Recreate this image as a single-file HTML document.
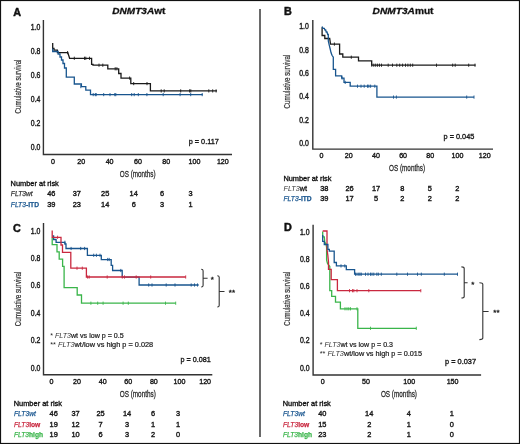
<!DOCTYPE html>
<html><head><meta charset="utf-8"><title>Kaplan-Meier curves</title>
<style>
html,body{margin:0;padding:0;background:#fff;}
body{width:520px;height:444px;overflow:hidden;font-family:"Liberation Sans",sans-serif;}
svg{display:block;will-change:transform;}
</style></head><body>
<svg width="520" height="444" viewBox="0 0 520 444" font-family="Liberation Sans, sans-serif">
<rect x="0" y="0" width="520" height="444" fill="#fff"/>
<rect x="0.5" y="0.5" width="519" height="443" fill="none" stroke="#111" stroke-width="1.2"/>
<path d="M260,9 V437" stroke="#6a6a6a" stroke-width="2"/>
<text x="13.20" y="15.62" font-size="10.8" text-anchor="start" font-weight="bold" font-style="normal" fill="#111" stroke="#111" stroke-width="0.45">A</text>
<text x="112.3" y="13.6" font-size="9.7" font-weight="bold" fill="#111" stroke="#111" stroke-width="0.3" textLength="53" lengthAdjust="spacingAndGlyphs"><tspan font-style="italic">DNMT3A</tspan>wt</text>
<path d="M43.40,20.00 V154.50 H232.00" fill="none" stroke="#333333" stroke-width="1.4"/>
<text x="40.40" y="29.54" font-size="8.2" text-anchor="end" font-weight="normal" font-style="normal" fill="#1a1a1a" textLength="9.6" lengthAdjust="spacingAndGlyphs" stroke="#1a1a1a" stroke-width="0.4">1.0</text>
<text x="40.40" y="54.04" font-size="8.2" text-anchor="end" font-weight="normal" font-style="normal" fill="#1a1a1a" textLength="9.6" lengthAdjust="spacingAndGlyphs" stroke="#1a1a1a" stroke-width="0.4">0.8</text>
<text x="40.40" y="78.04" font-size="8.2" text-anchor="end" font-weight="normal" font-style="normal" fill="#1a1a1a" textLength="9.6" lengthAdjust="spacingAndGlyphs" stroke="#1a1a1a" stroke-width="0.4">0.6</text>
<text x="40.40" y="102.14" font-size="8.2" text-anchor="end" font-weight="normal" font-style="normal" fill="#1a1a1a" textLength="9.6" lengthAdjust="spacingAndGlyphs" stroke="#1a1a1a" stroke-width="0.4">0.4</text>
<text x="40.40" y="126.24" font-size="8.2" text-anchor="end" font-weight="normal" font-style="normal" fill="#1a1a1a" textLength="9.6" lengthAdjust="spacingAndGlyphs" stroke="#1a1a1a" stroke-width="0.4">0.2</text>
<text x="40.40" y="150.34" font-size="8.2" text-anchor="end" font-weight="normal" font-style="normal" fill="#1a1a1a" textLength="9.6" lengthAdjust="spacingAndGlyphs" stroke="#1a1a1a" stroke-width="0.4">0.0</text>
<text x="53.00" y="163.78" font-size="7.5" text-anchor="middle" font-weight="normal" font-style="normal" fill="#1a1a1a" textLength="3.95" lengthAdjust="spacingAndGlyphs" stroke="#1a1a1a" stroke-width="0.4">0</text>
<text x="81.30" y="163.78" font-size="7.5" text-anchor="middle" font-weight="normal" font-style="normal" fill="#1a1a1a" textLength="7.9" lengthAdjust="spacingAndGlyphs" stroke="#1a1a1a" stroke-width="0.4">20</text>
<text x="109.60" y="163.78" font-size="7.5" text-anchor="middle" font-weight="normal" font-style="normal" fill="#1a1a1a" textLength="7.9" lengthAdjust="spacingAndGlyphs" stroke="#1a1a1a" stroke-width="0.4">40</text>
<text x="137.90" y="163.78" font-size="7.5" text-anchor="middle" font-weight="normal" font-style="normal" fill="#1a1a1a" textLength="7.9" lengthAdjust="spacingAndGlyphs" stroke="#1a1a1a" stroke-width="0.4">60</text>
<text x="166.20" y="163.78" font-size="7.5" text-anchor="middle" font-weight="normal" font-style="normal" fill="#1a1a1a" textLength="7.9" lengthAdjust="spacingAndGlyphs" stroke="#1a1a1a" stroke-width="0.4">80</text>
<text x="194.50" y="163.78" font-size="7.5" text-anchor="middle" font-weight="normal" font-style="normal" fill="#1a1a1a" textLength="11.850000000000001" lengthAdjust="spacingAndGlyphs" stroke="#1a1a1a" stroke-width="0.4">100</text>
<text x="222.80" y="163.78" font-size="7.5" text-anchor="middle" font-weight="normal" font-style="normal" fill="#1a1a1a" textLength="11.850000000000001" lengthAdjust="spacingAndGlyphs" stroke="#1a1a1a" stroke-width="0.4">120</text>
<text x="137.70" y="177.31" font-size="9.8" text-anchor="middle" font-weight="normal" font-style="normal" fill="#2a2a2a" textLength="35.8" lengthAdjust="spacingAndGlyphs" stroke="#2a2a2a" stroke-width="0.3">OS (months)</text>
<g transform="translate(17.60,86.50) rotate(-90)"><text x="0" y="3.44" font-size="9.6" text-anchor="middle" fill="#2e2e2e" stroke="#2e2e2e" stroke-width="0.2" textLength="54" lengthAdjust="spacingAndGlyphs">Cumulative survival</text></g>
<text x="188.70" y="143.85" font-size="7.4" text-anchor="start" font-weight="normal" font-style="normal" fill="#1a1a1a" textLength="30.2" lengthAdjust="spacingAndGlyphs" stroke="#1a1a1a" stroke-width="0.35">p = 0.117</text>
<path d="M52.70,43.10 V48.30 H54.00 V50.20 H57.40 V52.60 H67.80 L69.60,58.30 H91.60 V64.40 H93.00 V65.20 H107.80 V68.80 H118.70 V73.50 H121.00 V78.10 H130.80 V83.60 H150.40 V90.90 H217.00" fill="none" stroke="#1a1a1a" stroke-width="1.3" stroke-linejoin="miter"/>
<path d="M52.70,48.50 V51.50 H58.10 V54.00 H60.00 V57.00 H61.50 V60.00 H63.00 V63.50 H64.50 V68.00 H66.30 V77.20 H74.30 V84.00 H81.40 V86.60 H85.80 V90.20 H90.50 V94.60 H202.70" fill="none" stroke="#18558e" stroke-width="1.3" stroke-linejoin="miter"/>
<path d="M67.60,51.00 V54.20" fill="none" stroke="#1a1a1a" stroke-width="0.9"/>
<path d="M74.30,56.70 V59.90 M84.50,56.70 V59.90 M85.80,56.70 V59.90 M89.50,56.70 V59.90" fill="none" stroke="#1a1a1a" stroke-width="0.9"/>
<path d="M99.00,63.60 V66.80 M102.80,63.60 V66.80" fill="none" stroke="#1a1a1a" stroke-width="0.9"/>
<path d="M115.20,67.20 V70.40 M116.90,67.20 V70.40" fill="none" stroke="#1a1a1a" stroke-width="0.9"/>
<path d="M129.60,76.50 V79.70" fill="none" stroke="#1a1a1a" stroke-width="0.9"/>
<path d="M133.70,82.00 V85.20 M147.00,82.00 V85.20" fill="none" stroke="#1a1a1a" stroke-width="0.9"/>
<path d="M161.20,89.30 V92.50 M164.20,89.30 V92.50 M180.70,89.30 V92.50 M189.60,89.30 V92.50 M190.80,89.30 V92.50 M208.80,89.30 V92.50 M212.70,89.30 V92.50 M216.10,89.30 V92.50" fill="none" stroke="#1a1a1a" stroke-width="0.9"/>
<path d="M80.80,85.00 V88.20" fill="none" stroke="#18558e" stroke-width="0.9"/>
<path d="M93.20,93.00 V96.20 M95.30,93.00 V96.20 M96.20,93.00 V96.20 M103.70,93.00 V96.20 M110.00,93.00 V96.20 M114.80,93.00 V96.20 M115.80,93.00 V96.20 M131.70,93.00 V96.20 M134.20,93.00 V96.20 M138.30,93.00 V96.20 M146.90,93.00 V96.20 M163.20,93.00 V96.20 M180.10,93.00 V96.20 M190.70,93.00 V96.20 M202.20,93.00 V96.20" fill="none" stroke="#18558e" stroke-width="0.9"/>
<text x="10.60" y="185.92" font-size="7.6" text-anchor="start" font-weight="normal" font-style="normal" fill="#111" textLength="48.2" lengthAdjust="spacingAndGlyphs" stroke="#111" stroke-width="0.35">Number at risk</text>
<text x="10.8" y="195.95" font-size="7.6" fill="#333" stroke="#333" stroke-width="0.25" font-style="italic" textLength="21.9" lengthAdjust="spacingAndGlyphs">FLT3wt</text>
<text x="10.8" y="206.75" font-size="7.6" fill="#18558e" stroke="#18558e" stroke-width="0.25" textLength="28.2" lengthAdjust="spacingAndGlyphs"><tspan font-style="italic">FLT3</tspan><tspan font-weight="bold">-ITD</tspan></text>
<text x="51.30" y="196.05" font-size="7.4" text-anchor="middle" font-weight="normal" font-style="normal" fill="#1a1a1a" stroke="#1a1a1a" stroke-width="0.4">46</text>
<text x="51.30" y="206.65" font-size="7.4" text-anchor="middle" font-weight="normal" font-style="normal" fill="#1a1a1a" stroke="#1a1a1a" stroke-width="0.4">39</text>
<text x="76.80" y="196.05" font-size="7.4" text-anchor="middle" font-weight="normal" font-style="normal" fill="#1a1a1a" stroke="#1a1a1a" stroke-width="0.4">37</text>
<text x="76.80" y="206.65" font-size="7.4" text-anchor="middle" font-weight="normal" font-style="normal" fill="#1a1a1a" stroke="#1a1a1a" stroke-width="0.4">23</text>
<text x="105.20" y="196.05" font-size="7.4" text-anchor="middle" font-weight="normal" font-style="normal" fill="#1a1a1a" stroke="#1a1a1a" stroke-width="0.4">25</text>
<text x="105.20" y="206.65" font-size="7.4" text-anchor="middle" font-weight="normal" font-style="normal" fill="#1a1a1a" stroke="#1a1a1a" stroke-width="0.4">14</text>
<text x="133.70" y="196.05" font-size="7.4" text-anchor="middle" font-weight="normal" font-style="normal" fill="#1a1a1a" stroke="#1a1a1a" stroke-width="0.4">14</text>
<text x="133.70" y="206.65" font-size="7.4" text-anchor="middle" font-weight="normal" font-style="normal" fill="#1a1a1a" stroke="#1a1a1a" stroke-width="0.4">6</text>
<text x="162.00" y="196.05" font-size="7.4" text-anchor="middle" font-weight="normal" font-style="normal" fill="#1a1a1a" stroke="#1a1a1a" stroke-width="0.4">6</text>
<text x="162.00" y="206.65" font-size="7.4" text-anchor="middle" font-weight="normal" font-style="normal" fill="#1a1a1a" stroke="#1a1a1a" stroke-width="0.4">3</text>
<text x="190.50" y="196.05" font-size="7.4" text-anchor="middle" font-weight="normal" font-style="normal" fill="#1a1a1a" stroke="#1a1a1a" stroke-width="0.4">3</text>
<text x="190.50" y="206.65" font-size="7.4" text-anchor="middle" font-weight="normal" font-style="normal" fill="#1a1a1a" stroke="#1a1a1a" stroke-width="0.4">1</text>
<text x="284.10" y="15.47" font-size="10.8" text-anchor="start" font-weight="bold" font-style="normal" fill="#111" stroke="#111" stroke-width="0.45">B</text>
<text x="372.6" y="13.6" font-size="9.7" font-weight="bold" fill="#111" stroke="#111" stroke-width="0.3" textLength="60.9" lengthAdjust="spacingAndGlyphs"><tspan font-style="italic">DNMT3A</tspan>mut</text>
<path d="M312.80,20.00 V149.10 H493.00" fill="none" stroke="#333333" stroke-width="1.4"/>
<text x="308.80" y="29.24" font-size="8.2" text-anchor="end" font-weight="normal" font-style="normal" fill="#1a1a1a" textLength="9.6" lengthAdjust="spacingAndGlyphs" stroke="#1a1a1a" stroke-width="0.4">1.0</text>
<text x="308.80" y="52.54" font-size="8.2" text-anchor="end" font-weight="normal" font-style="normal" fill="#1a1a1a" textLength="9.6" lengthAdjust="spacingAndGlyphs" stroke="#1a1a1a" stroke-width="0.4">0.8</text>
<text x="308.80" y="76.04" font-size="8.2" text-anchor="end" font-weight="normal" font-style="normal" fill="#1a1a1a" textLength="9.6" lengthAdjust="spacingAndGlyphs" stroke="#1a1a1a" stroke-width="0.4">0.6</text>
<text x="308.80" y="99.34" font-size="8.2" text-anchor="end" font-weight="normal" font-style="normal" fill="#1a1a1a" textLength="9.6" lengthAdjust="spacingAndGlyphs" stroke="#1a1a1a" stroke-width="0.4">0.4</text>
<text x="308.80" y="122.74" font-size="8.2" text-anchor="end" font-weight="normal" font-style="normal" fill="#1a1a1a" textLength="9.6" lengthAdjust="spacingAndGlyphs" stroke="#1a1a1a" stroke-width="0.4">0.2</text>
<text x="308.80" y="146.04" font-size="8.2" text-anchor="end" font-weight="normal" font-style="normal" fill="#1a1a1a" textLength="9.6" lengthAdjust="spacingAndGlyphs" stroke="#1a1a1a" stroke-width="0.4">0.0</text>
<text x="321.50" y="157.88" font-size="7.5" text-anchor="middle" font-weight="normal" font-style="normal" fill="#1a1a1a" textLength="3.95" lengthAdjust="spacingAndGlyphs" stroke="#1a1a1a" stroke-width="0.4">0</text>
<text x="348.70" y="157.88" font-size="7.5" text-anchor="middle" font-weight="normal" font-style="normal" fill="#1a1a1a" textLength="7.9" lengthAdjust="spacingAndGlyphs" stroke="#1a1a1a" stroke-width="0.4">20</text>
<text x="375.90" y="157.88" font-size="7.5" text-anchor="middle" font-weight="normal" font-style="normal" fill="#1a1a1a" textLength="7.9" lengthAdjust="spacingAndGlyphs" stroke="#1a1a1a" stroke-width="0.4">40</text>
<text x="403.10" y="157.88" font-size="7.5" text-anchor="middle" font-weight="normal" font-style="normal" fill="#1a1a1a" textLength="7.9" lengthAdjust="spacingAndGlyphs" stroke="#1a1a1a" stroke-width="0.4">60</text>
<text x="430.30" y="157.88" font-size="7.5" text-anchor="middle" font-weight="normal" font-style="normal" fill="#1a1a1a" textLength="7.9" lengthAdjust="spacingAndGlyphs" stroke="#1a1a1a" stroke-width="0.4">80</text>
<text x="457.50" y="157.88" font-size="7.5" text-anchor="middle" font-weight="normal" font-style="normal" fill="#1a1a1a" textLength="11.850000000000001" lengthAdjust="spacingAndGlyphs" stroke="#1a1a1a" stroke-width="0.4">100</text>
<text x="484.70" y="157.88" font-size="7.5" text-anchor="middle" font-weight="normal" font-style="normal" fill="#1a1a1a" textLength="11.850000000000001" lengthAdjust="spacingAndGlyphs" stroke="#1a1a1a" stroke-width="0.4">120</text>
<text x="407.00" y="171.31" font-size="9.8" text-anchor="middle" font-weight="normal" font-style="normal" fill="#2a2a2a" textLength="36.0" lengthAdjust="spacingAndGlyphs" stroke="#2a2a2a" stroke-width="0.3">OS (months)</text>
<g transform="translate(286.90,81.60) rotate(-90)"><text x="0" y="3.44" font-size="9.6" text-anchor="middle" fill="#2e2e2e" stroke="#2e2e2e" stroke-width="0.2" textLength="53.8" lengthAdjust="spacingAndGlyphs">Cumulative survival</text></g>
<text x="443.60" y="139.15" font-size="7.4" text-anchor="start" font-weight="normal" font-style="normal" fill="#1a1a1a" textLength="30.7" lengthAdjust="spacingAndGlyphs" stroke="#1a1a1a" stroke-width="0.35">p = 0.045</text>
<path d="M322.10,27.20 V35.50 H324.80 V38.50 H329.70 L330.50,44.10 H339.60 V54.00 H342.80 V57.20 H358.50 V60.80 H371.70 V65.20 H475.50" fill="none" stroke="#1a1a1a" stroke-width="1.3" stroke-linejoin="miter"/>
<path d="M322.10,26.50 L322.90,28.30 H324.30 L325.00,30.00 H325.70 L326.20,32.00 H327.00 L327.70,34.50 H328.30 V41.00 L329.30,45.40 L330.20,49.00 L331.00,52.60 L332.00,55.30 L333.30,57.10 V69.40 H335.60 V75.80 H341.70 V78.10 H344.00 V82.40 H350.20 V86.20 H376.90 V97.10 H474.00" fill="none" stroke="#18558e" stroke-width="1.3" stroke-linejoin="miter"/>
<path d="M334.40,42.50 V45.70" fill="none" stroke="#1a1a1a" stroke-width="0.9"/>
<path d="M351.30,55.60 V58.80" fill="none" stroke="#1a1a1a" stroke-width="0.9"/>
<path d="M371.80,63.60 V66.80 M373.80,63.60 V66.80 M375.70,63.60 V66.80 M377.60,63.60 V66.80 M379.50,63.60 V66.80 M381.50,63.60 V66.80 M388.20,63.60 V66.80 M392.50,63.60 V66.80 M396.80,63.60 V66.80 M399.70,63.60 V66.80 M402.60,63.60 V66.80 M405.50,63.60 V66.80 M407.90,63.60 V66.80 M410.30,63.60 V66.80 M412.70,63.60 V66.80 M436.50,63.60 V66.80 M452.70,63.60 V66.80 M455.20,63.60 V66.80 M468.70,63.60 V66.80 M475.00,63.60 V66.80" fill="none" stroke="#1a1a1a" stroke-width="0.9"/>
<path d="M342.10,76.50 V79.70" fill="none" stroke="#18558e" stroke-width="0.9"/>
<path d="M345.20,80.80 V84.00" fill="none" stroke="#18558e" stroke-width="0.9"/>
<path d="M357.50,84.60 V87.80 M361.00,84.60 V87.80 M364.20,84.60 V87.80 M367.50,84.60 V87.80 M368.80,84.60 V87.80 M370.60,84.60 V87.80 M374.80,84.60 V87.80" fill="none" stroke="#18558e" stroke-width="0.9"/>
<path d="M393.50,95.50 V98.70 M396.40,95.50 V98.70 M466.70,95.50 V98.70 M474.00,95.50 V98.70" fill="none" stroke="#18558e" stroke-width="0.9"/>
<text x="283.40" y="180.72" font-size="7.6" text-anchor="start" font-weight="normal" font-style="normal" fill="#111" textLength="48.1" lengthAdjust="spacingAndGlyphs" stroke="#111" stroke-width="0.35">Number at risk</text>
<text x="283.5" y="190.65" font-size="7.6" fill="#333" textLength="23.4" lengthAdjust="spacingAndGlyphs"><tspan font-style="italic" fill="#333">FLT3</tspan><tspan stroke="#222" stroke-width="0.35" fill="#222">wt</tspan></text>
<text x="283.5" y="201.05" font-size="7.6" fill="#18558e" stroke="#18558e" stroke-width="0.25" textLength="28.2" lengthAdjust="spacingAndGlyphs"><tspan font-style="italic">FLT3</tspan><tspan font-weight="bold">-ITD</tspan></text>
<text x="324.30" y="190.65" font-size="7.4" text-anchor="middle" font-weight="normal" font-style="normal" fill="#1a1a1a" stroke="#1a1a1a" stroke-width="0.4">38</text>
<text x="324.30" y="201.05" font-size="7.4" text-anchor="middle" font-weight="normal" font-style="normal" fill="#1a1a1a" stroke="#1a1a1a" stroke-width="0.4">39</text>
<text x="349.50" y="190.65" font-size="7.4" text-anchor="middle" font-weight="normal" font-style="normal" fill="#1a1a1a" stroke="#1a1a1a" stroke-width="0.4">26</text>
<text x="349.50" y="201.05" font-size="7.4" text-anchor="middle" font-weight="normal" font-style="normal" fill="#1a1a1a" stroke="#1a1a1a" stroke-width="0.4">17</text>
<text x="376.00" y="190.65" font-size="7.4" text-anchor="middle" font-weight="normal" font-style="normal" fill="#1a1a1a" stroke="#1a1a1a" stroke-width="0.4">17</text>
<text x="376.00" y="201.05" font-size="7.4" text-anchor="middle" font-weight="normal" font-style="normal" fill="#1a1a1a" stroke="#1a1a1a" stroke-width="0.4">5</text>
<text x="402.30" y="190.65" font-size="7.4" text-anchor="middle" font-weight="normal" font-style="normal" fill="#1a1a1a" stroke="#1a1a1a" stroke-width="0.4">8</text>
<text x="402.30" y="201.05" font-size="7.4" text-anchor="middle" font-weight="normal" font-style="normal" fill="#1a1a1a" stroke="#1a1a1a" stroke-width="0.4">2</text>
<text x="429.70" y="190.65" font-size="7.4" text-anchor="middle" font-weight="normal" font-style="normal" fill="#1a1a1a" stroke="#1a1a1a" stroke-width="0.4">5</text>
<text x="429.70" y="201.05" font-size="7.4" text-anchor="middle" font-weight="normal" font-style="normal" fill="#1a1a1a" stroke="#1a1a1a" stroke-width="0.4">2</text>
<text x="457.20" y="190.65" font-size="7.4" text-anchor="middle" font-weight="normal" font-style="normal" fill="#1a1a1a" stroke="#1a1a1a" stroke-width="0.4">2</text>
<text x="457.20" y="201.05" font-size="7.4" text-anchor="middle" font-weight="normal" font-style="normal" fill="#1a1a1a" stroke="#1a1a1a" stroke-width="0.4">2</text>
<text x="13.00" y="231.57" font-size="10.8" text-anchor="start" font-weight="bold" font-style="normal" fill="#111" stroke="#111" stroke-width="0.45">C</text>
<path d="M43.50,223.00 V374.70 H212.30" fill="none" stroke="#333333" stroke-width="1.4"/>
<text x="40.40" y="233.64" font-size="8.2" text-anchor="end" font-weight="normal" font-style="normal" fill="#1a1a1a" textLength="9.6" lengthAdjust="spacingAndGlyphs" stroke="#1a1a1a" stroke-width="0.4">1.0</text>
<text x="40.40" y="260.84" font-size="8.2" text-anchor="end" font-weight="normal" font-style="normal" fill="#1a1a1a" textLength="9.6" lengthAdjust="spacingAndGlyphs" stroke="#1a1a1a" stroke-width="0.4">0.8</text>
<text x="40.40" y="288.24" font-size="8.2" text-anchor="end" font-weight="normal" font-style="normal" fill="#1a1a1a" textLength="9.6" lengthAdjust="spacingAndGlyphs" stroke="#1a1a1a" stroke-width="0.4">0.6</text>
<text x="40.40" y="315.64" font-size="8.2" text-anchor="end" font-weight="normal" font-style="normal" fill="#1a1a1a" textLength="9.6" lengthAdjust="spacingAndGlyphs" stroke="#1a1a1a" stroke-width="0.4">0.4</text>
<text x="40.40" y="343.44" font-size="8.2" text-anchor="end" font-weight="normal" font-style="normal" fill="#1a1a1a" textLength="9.6" lengthAdjust="spacingAndGlyphs" stroke="#1a1a1a" stroke-width="0.4">0.2</text>
<text x="40.40" y="371.24" font-size="8.2" text-anchor="end" font-weight="normal" font-style="normal" fill="#1a1a1a" textLength="9.6" lengthAdjust="spacingAndGlyphs" stroke="#1a1a1a" stroke-width="0.4">0.0</text>
<text x="51.40" y="384.19" font-size="7.5" text-anchor="middle" font-weight="normal" font-style="normal" fill="#1a1a1a" textLength="3.95" lengthAdjust="spacingAndGlyphs" stroke="#1a1a1a" stroke-width="0.4">0</text>
<text x="77.02" y="384.19" font-size="7.5" text-anchor="middle" font-weight="normal" font-style="normal" fill="#1a1a1a" textLength="7.9" lengthAdjust="spacingAndGlyphs" stroke="#1a1a1a" stroke-width="0.4">20</text>
<text x="102.64" y="384.19" font-size="7.5" text-anchor="middle" font-weight="normal" font-style="normal" fill="#1a1a1a" textLength="7.9" lengthAdjust="spacingAndGlyphs" stroke="#1a1a1a" stroke-width="0.4">40</text>
<text x="128.26" y="384.19" font-size="7.5" text-anchor="middle" font-weight="normal" font-style="normal" fill="#1a1a1a" textLength="7.9" lengthAdjust="spacingAndGlyphs" stroke="#1a1a1a" stroke-width="0.4">60</text>
<text x="153.88" y="384.19" font-size="7.5" text-anchor="middle" font-weight="normal" font-style="normal" fill="#1a1a1a" textLength="7.9" lengthAdjust="spacingAndGlyphs" stroke="#1a1a1a" stroke-width="0.4">80</text>
<text x="179.50" y="384.19" font-size="7.5" text-anchor="middle" font-weight="normal" font-style="normal" fill="#1a1a1a" textLength="11.850000000000001" lengthAdjust="spacingAndGlyphs" stroke="#1a1a1a" stroke-width="0.4">100</text>
<text x="205.12" y="384.19" font-size="7.5" text-anchor="middle" font-weight="normal" font-style="normal" fill="#1a1a1a" textLength="11.850000000000001" lengthAdjust="spacingAndGlyphs" stroke="#1a1a1a" stroke-width="0.4">120</text>
<text x="137.75" y="397.41" font-size="9.8" text-anchor="middle" font-weight="normal" font-style="normal" fill="#2a2a2a" textLength="36.1" lengthAdjust="spacingAndGlyphs" stroke="#2a2a2a" stroke-width="0.3">OS (months)</text>
<g transform="translate(18.00,299.00) rotate(-90)"><text x="0" y="3.44" font-size="9.6" text-anchor="middle" fill="#2e2e2e" stroke="#2e2e2e" stroke-width="0.2" textLength="54.6" lengthAdjust="spacingAndGlyphs">Cumulative survival</text></g>
<text x="180.50" y="362.35" font-size="7.4" text-anchor="start" font-weight="normal" font-style="normal" fill="#1a1a1a" textLength="30.2" lengthAdjust="spacingAndGlyphs" stroke="#1a1a1a" stroke-width="0.35">p = 0.081</text>
<text x="50.2" y="337.58" font-size="7.2" fill="#222" textLength="73.5" lengthAdjust="spacingAndGlyphs">* <tspan font-style="italic" fill="#333">FLT3</tspan><tspan stroke="#222" stroke-width="0.22">wt vs low p = 0.5</tspan></text>
<text x="50.2" y="346.58" font-size="7.2" fill="#222" textLength="103" lengthAdjust="spacingAndGlyphs">** <tspan font-style="italic" fill="#333">FLT3</tspan><tspan stroke="#222" stroke-width="0.22">wt/low vs high p = 0.028</tspan></text>
<path d="M52.20,237.80 V244.60 H57.00 V251.90 H59.20 V259.20 H62.60 V266.30 H64.10 V287.70 H77.20 V295.00 H81.50 V303.20 H175.70" fill="none" stroke="#3ab54a" stroke-width="1.3" stroke-linejoin="miter"/>
<path d="M52.40,236.00 H53.60 V239.50 H56.10 V242.30 H64.90 V244.00 H66.00 V248.50 H87.40 V255.30 H101.30 V259.60 H111.20 V265.40 H112.60 V270.50 H122.20 V277.20 H139.10 V285.00 H198.70" fill="none" stroke="#18558e" stroke-width="1.3" stroke-linejoin="miter"/>
<path d="M52.20,230.50 V237.30 H61.00 V245.00 H62.50 V252.40 H70.80 V268.20 H86.40 V277.00 H185.70" fill="none" stroke="#c9283f" stroke-width="1.3" stroke-linejoin="miter"/>
<path d="M57.60,235.70 V238.90" fill="none" stroke="#c9283f" stroke-width="0.9"/>
<path d="M77.00,266.60 V269.80 M82.30,266.60 V269.80" fill="none" stroke="#c9283f" stroke-width="0.9"/>
<path d="M87.60,275.40 V278.60 M89.20,275.40 V278.60 M107.20,275.40 V278.60 M122.30,275.40 V278.60 M124.50,275.40 V278.60 M136.20,275.40 V278.60 M150.70,275.40 V278.60 M185.70,275.40 V278.60" fill="none" stroke="#c9283f" stroke-width="0.9"/>
<path d="M64.90,240.70 V243.90" fill="none" stroke="#18558e" stroke-width="0.9"/>
<path d="M71.10,246.90 V250.10 M80.70,246.90 V250.10 M84.60,246.90 V250.10" fill="none" stroke="#18558e" stroke-width="0.9"/>
<path d="M93.70,253.70 V256.90 M96.40,253.70 V256.90 M100.00,253.70 V256.90" fill="none" stroke="#18558e" stroke-width="0.9"/>
<path d="M107.70,257.90 V261.10 M109.20,257.90 V261.10" fill="none" stroke="#18558e" stroke-width="0.9"/>
<path d="M120.80,268.90 V272.10" fill="none" stroke="#18558e" stroke-width="0.9"/>
<path d="M148.70,283.40 V286.60 M152.00,283.40 V286.60 M166.20,283.40 V286.60 M175.00,283.40 V286.60 M191.20,283.40 V286.60 M194.50,283.40 V286.60 M197.50,283.40 V286.60" fill="none" stroke="#18558e" stroke-width="0.9"/>
<path d="M90.90,301.60 V304.80 M97.70,301.60 V304.80 M103.10,301.60 V304.80 M123.10,301.60 V304.80 M128.30,301.60 V304.80 M165.50,301.60 V304.80 M175.70,301.60 V304.80" fill="none" stroke="#3ab54a" stroke-width="0.9"/>
<path d="M201.20,269.20 Q203.10,269.20 203.10,270.70 V285.50 Q203.10,287.00 201.20,287.00 M203.10,278.20 H207.60" fill="none" stroke="#333" stroke-width="1.1"/>
<path d="M217.30,275.70 Q219.20,275.70 219.20,277.20 V305.50 Q219.20,307.00 217.30,307.00 M219.20,291.50 H224.50" fill="none" stroke="#333" stroke-width="1.1"/>
<text x="212.2" y="282.4" font-size="8" text-anchor="middle" fill="#222" stroke="#222" stroke-width="0.35">*</text>
<text x="231.9" y="295.2" font-size="8" text-anchor="middle" fill="#222" stroke="#222" stroke-width="0.35">**</text>
<text x="13.70" y="406.42" font-size="7.6" text-anchor="start" font-weight="normal" font-style="normal" fill="#111" textLength="48.3" lengthAdjust="spacingAndGlyphs" stroke="#111" stroke-width="0.35">Number at risk</text>
<text x="14.0" y="416.35" font-size="7.6" fill="#18558e" stroke="#18558e" stroke-width="0.25" textLength="22.0" lengthAdjust="spacingAndGlyphs"><tspan font-style="italic">FLT3</tspan><tspan font-weight="normal" font-style="italic">wt</tspan></text>
<text x="53.70" y="416.35" font-size="7.4" text-anchor="middle" font-weight="normal" font-style="normal" fill="#1a1a1a" stroke="#1a1a1a" stroke-width="0.4">46</text>
<text x="75.50" y="416.35" font-size="7.4" text-anchor="middle" font-weight="normal" font-style="normal" fill="#1a1a1a" stroke="#1a1a1a" stroke-width="0.4">37</text>
<text x="100.50" y="416.35" font-size="7.4" text-anchor="middle" font-weight="normal" font-style="normal" fill="#1a1a1a" stroke="#1a1a1a" stroke-width="0.4">25</text>
<text x="127.00" y="416.35" font-size="7.4" text-anchor="middle" font-weight="normal" font-style="normal" fill="#1a1a1a" stroke="#1a1a1a" stroke-width="0.4">14</text>
<text x="153.00" y="416.35" font-size="7.4" text-anchor="middle" font-weight="normal" font-style="normal" fill="#1a1a1a" stroke="#1a1a1a" stroke-width="0.4">6</text>
<text x="178.00" y="416.35" font-size="7.4" text-anchor="middle" font-weight="normal" font-style="normal" fill="#1a1a1a" stroke="#1a1a1a" stroke-width="0.4">3</text>
<text x="14.0" y="427.15" font-size="7.6" fill="#c9283f" stroke="#c9283f" stroke-width="0.25" textLength="26.3" lengthAdjust="spacingAndGlyphs"><tspan font-style="italic">FLT3</tspan><tspan font-weight="bold" font-style="normal">low</tspan></text>
<text x="53.70" y="427.15" font-size="7.4" text-anchor="middle" font-weight="normal" font-style="normal" fill="#1a1a1a" stroke="#1a1a1a" stroke-width="0.4">19</text>
<text x="75.50" y="427.15" font-size="7.4" text-anchor="middle" font-weight="normal" font-style="normal" fill="#1a1a1a" stroke="#1a1a1a" stroke-width="0.4">12</text>
<text x="100.50" y="427.15" font-size="7.4" text-anchor="middle" font-weight="normal" font-style="normal" fill="#1a1a1a" stroke="#1a1a1a" stroke-width="0.4">7</text>
<text x="127.00" y="427.15" font-size="7.4" text-anchor="middle" font-weight="normal" font-style="normal" fill="#1a1a1a" stroke="#1a1a1a" stroke-width="0.4">3</text>
<text x="153.00" y="427.15" font-size="7.4" text-anchor="middle" font-weight="normal" font-style="normal" fill="#1a1a1a" stroke="#1a1a1a" stroke-width="0.4">1</text>
<text x="178.00" y="427.15" font-size="7.4" text-anchor="middle" font-weight="normal" font-style="normal" fill="#1a1a1a" stroke="#1a1a1a" stroke-width="0.4">1</text>
<text x="14.0" y="437.15" font-size="7.6" fill="#3ab54a" stroke="#3ab54a" stroke-width="0.25" textLength="29.0" lengthAdjust="spacingAndGlyphs"><tspan font-style="italic">FLT3</tspan><tspan font-weight="bold" font-style="normal">high</tspan></text>
<text x="53.70" y="437.15" font-size="7.4" text-anchor="middle" font-weight="normal" font-style="normal" fill="#1a1a1a" stroke="#1a1a1a" stroke-width="0.4">19</text>
<text x="75.50" y="437.15" font-size="7.4" text-anchor="middle" font-weight="normal" font-style="normal" fill="#1a1a1a" stroke="#1a1a1a" stroke-width="0.4">10</text>
<text x="100.50" y="437.15" font-size="7.4" text-anchor="middle" font-weight="normal" font-style="normal" fill="#1a1a1a" stroke="#1a1a1a" stroke-width="0.4">6</text>
<text x="127.00" y="437.15" font-size="7.4" text-anchor="middle" font-weight="normal" font-style="normal" fill="#1a1a1a" stroke="#1a1a1a" stroke-width="0.4">3</text>
<text x="153.00" y="437.15" font-size="7.4" text-anchor="middle" font-weight="normal" font-style="normal" fill="#1a1a1a" stroke="#1a1a1a" stroke-width="0.4">2</text>
<text x="178.00" y="437.15" font-size="7.4" text-anchor="middle" font-weight="normal" font-style="normal" fill="#1a1a1a" stroke="#1a1a1a" stroke-width="0.4">0</text>
<text x="284.10" y="231.27" font-size="10.8" text-anchor="start" font-weight="bold" font-style="normal" fill="#111" stroke="#111" stroke-width="0.45">D</text>
<path d="M313.10,224.70 V375.00 H481.10" fill="none" stroke="#333333" stroke-width="1.4"/>
<text x="309.60" y="234.84" font-size="8.2" text-anchor="end" font-weight="normal" font-style="normal" fill="#1a1a1a" textLength="9.6" lengthAdjust="spacingAndGlyphs" stroke="#1a1a1a" stroke-width="0.4">1.0</text>
<text x="309.60" y="261.84" font-size="8.2" text-anchor="end" font-weight="normal" font-style="normal" fill="#1a1a1a" textLength="9.6" lengthAdjust="spacingAndGlyphs" stroke="#1a1a1a" stroke-width="0.4">0.8</text>
<text x="309.60" y="289.14" font-size="8.2" text-anchor="end" font-weight="normal" font-style="normal" fill="#1a1a1a" textLength="9.6" lengthAdjust="spacingAndGlyphs" stroke="#1a1a1a" stroke-width="0.4">0.6</text>
<text x="309.60" y="316.04" font-size="8.2" text-anchor="end" font-weight="normal" font-style="normal" fill="#1a1a1a" textLength="9.6" lengthAdjust="spacingAndGlyphs" stroke="#1a1a1a" stroke-width="0.4">0.4</text>
<text x="309.60" y="343.34" font-size="8.2" text-anchor="end" font-weight="normal" font-style="normal" fill="#1a1a1a" textLength="9.6" lengthAdjust="spacingAndGlyphs" stroke="#1a1a1a" stroke-width="0.4">0.2</text>
<text x="309.60" y="370.74" font-size="8.2" text-anchor="end" font-weight="normal" font-style="normal" fill="#1a1a1a" textLength="9.6" lengthAdjust="spacingAndGlyphs" stroke="#1a1a1a" stroke-width="0.4">0.0</text>
<text x="322.60" y="383.88" font-size="7.5" text-anchor="middle" font-weight="normal" font-style="normal" fill="#1a1a1a" textLength="3.95" lengthAdjust="spacingAndGlyphs" stroke="#1a1a1a" stroke-width="0.4">0</text>
<text x="365.93" y="383.88" font-size="7.5" text-anchor="middle" font-weight="normal" font-style="normal" fill="#1a1a1a" textLength="7.9" lengthAdjust="spacingAndGlyphs" stroke="#1a1a1a" stroke-width="0.4">50</text>
<text x="409.26" y="383.88" font-size="7.5" text-anchor="middle" font-weight="normal" font-style="normal" fill="#1a1a1a" textLength="11.850000000000001" lengthAdjust="spacingAndGlyphs" stroke="#1a1a1a" stroke-width="0.4">100</text>
<text x="452.59" y="383.88" font-size="7.5" text-anchor="middle" font-weight="normal" font-style="normal" fill="#1a1a1a" textLength="11.850000000000001" lengthAdjust="spacingAndGlyphs" stroke="#1a1a1a" stroke-width="0.4">150</text>
<text x="398.95" y="397.11" font-size="9.8" text-anchor="middle" font-weight="normal" font-style="normal" fill="#2a2a2a" textLength="36.1" lengthAdjust="spacingAndGlyphs" stroke="#2a2a2a" stroke-width="0.3">OS (months)</text>
<g transform="translate(286.90,298.70) rotate(-90)"><text x="0" y="3.44" font-size="9.6" text-anchor="middle" fill="#2e2e2e" stroke="#2e2e2e" stroke-width="0.2" textLength="54.1" lengthAdjust="spacingAndGlyphs">Cumulative survival</text></g>
<text x="445.00" y="364.25" font-size="7.4" text-anchor="start" font-weight="normal" font-style="normal" fill="#1a1a1a" textLength="31" lengthAdjust="spacingAndGlyphs" stroke="#1a1a1a" stroke-width="0.35">p = 0.037</text>
<text x="319.7" y="347.08" font-size="7.2" fill="#222" textLength="73.3" lengthAdjust="spacingAndGlyphs">* <tspan font-style="italic" fill="#333">FLT3</tspan><tspan stroke="#222" stroke-width="0.22">wt vs low p = 0.3</tspan></text>
<text x="319.7" y="356.28" font-size="7.2" fill="#222" textLength="102.3" lengthAdjust="spacingAndGlyphs">** <tspan font-style="italic" fill="#333">FLT3</tspan><tspan stroke="#222" stroke-width="0.22">wt/low vs high p = 0.015</tspan></text>
<path d="M322.70,231.40 V236.80 H324.30 L324.80,242.20 L326.10,244.00 L326.60,247.60 V260.20 L327.50,263.50 L329.80,266.50 V290.60 H331.70 V296.30 H335.50 V302.10 H340.40 V308.80 H357.80 V328.30 H416.30" fill="none" stroke="#3ab54a" stroke-width="1.3" stroke-linejoin="miter"/>
<path d="M322.70,231.00 H327.00 V249.40 L327.80,255.00 L328.50,262.00 V269.40 H331.20 V279.70 H337.40 V290.70 H420.80" fill="none" stroke="#c9283f" stroke-width="1.3" stroke-linejoin="miter"/>
<path d="M322.70,235.00 V241.30 H324.30 V244.50 H327.90 V249.40 H329.30 V251.20 H334.20 V262.50 H336.40 V265.90 H346.30 V269.60 H354.60 V274.20 H457.80" fill="none" stroke="#18558e" stroke-width="1.3" stroke-linejoin="miter"/>
<path d="M349.50,289.10 V292.30 M352.50,289.10 V292.30 M353.80,289.10 V292.30 M357.00,289.10 V292.30 M368.80,289.10 V292.30 M420.80,289.10 V292.30" fill="none" stroke="#c9283f" stroke-width="0.9"/>
<path d="M341.00,264.30 V267.50 M344.80,264.30 V267.50" fill="none" stroke="#18558e" stroke-width="0.9"/>
<path d="M355.50,272.60 V275.80 M357.00,272.60 V275.80 M358.80,272.60 V275.80 M360.00,272.60 V275.80 M361.30,272.60 V275.80 M365.50,272.60 V275.80 M368.00,272.60 V275.80 M370.50,272.60 V275.80 M372.00,272.60 V275.80 M373.80,272.60 V275.80 M376.80,272.60 V275.80 M378.30,272.60 V275.80 M381.30,272.60 V275.80 M396.80,272.60 V275.80 M407.50,272.60 V275.80 M417.50,272.60 V275.80 M421.30,272.60 V275.80 M444.30,272.60 V275.80 M457.50,272.60 V275.80" fill="none" stroke="#18558e" stroke-width="0.9"/>
<path d="M345.00,307.20 V310.40 M347.00,307.20 V310.40 M348.80,307.20 V310.40 M350.50,307.20 V310.40 M357.00,307.20 V310.40" fill="none" stroke="#3ab54a" stroke-width="0.9"/>
<path d="M370.50,326.70 V329.90 M416.30,326.70 V329.90" fill="none" stroke="#3ab54a" stroke-width="0.9"/>
<path d="M461.40,266.90 Q464.20,266.90 464.20,268.40 V296.50 Q464.20,298.00 461.40,298.00 M464.20,282.80 H467.60" fill="none" stroke="#333" stroke-width="1.1"/>
<path d="M479.40,282.80 Q482.80,282.80 482.80,284.30 V338.10 Q482.80,339.60 479.40,339.60 M482.80,311.50 H488.60" fill="none" stroke="#333" stroke-width="1.1"/>
<text x="472.7" y="287.0" font-size="8" text-anchor="middle" fill="#222" stroke="#222" stroke-width="0.35">*</text>
<text x="496.4" y="315.3" font-size="8" text-anchor="middle" fill="#222" stroke="#222" stroke-width="0.35">**</text>
<text x="282.70" y="406.32" font-size="7.6" text-anchor="start" font-weight="normal" font-style="normal" fill="#111" textLength="48.1" lengthAdjust="spacingAndGlyphs" stroke="#111" stroke-width="0.35">Number at risk</text>
<text x="283.0" y="415.65" font-size="7.6" fill="#18558e" stroke="#18558e" stroke-width="0.25" textLength="22.0" lengthAdjust="spacingAndGlyphs"><tspan font-style="italic">FLT3</tspan><tspan font-weight="normal" font-style="italic">wt</tspan></text>
<text x="322.30" y="415.65" font-size="7.4" text-anchor="middle" font-weight="normal" font-style="normal" fill="#1a1a1a" stroke="#1a1a1a" stroke-width="0.4">40</text>
<text x="369.20" y="415.65" font-size="7.4" text-anchor="middle" font-weight="normal" font-style="normal" fill="#1a1a1a" stroke="#1a1a1a" stroke-width="0.4">14</text>
<text x="408.80" y="415.65" font-size="7.4" text-anchor="middle" font-weight="normal" font-style="normal" fill="#1a1a1a" stroke="#1a1a1a" stroke-width="0.4">4</text>
<text x="451.90" y="415.65" font-size="7.4" text-anchor="middle" font-weight="normal" font-style="normal" fill="#1a1a1a" stroke="#1a1a1a" stroke-width="0.4">1</text>
<text x="283.0" y="427.05" font-size="7.6" fill="#c9283f" stroke="#c9283f" stroke-width="0.25" textLength="26.3" lengthAdjust="spacingAndGlyphs"><tspan font-style="italic">FLT3</tspan><tspan font-weight="bold" font-style="normal">low</tspan></text>
<text x="322.30" y="427.05" font-size="7.4" text-anchor="middle" font-weight="normal" font-style="normal" fill="#1a1a1a" stroke="#1a1a1a" stroke-width="0.4">15</text>
<text x="369.20" y="427.05" font-size="7.4" text-anchor="middle" font-weight="normal" font-style="normal" fill="#1a1a1a" stroke="#1a1a1a" stroke-width="0.4">2</text>
<text x="408.80" y="427.05" font-size="7.4" text-anchor="middle" font-weight="normal" font-style="normal" fill="#1a1a1a" stroke="#1a1a1a" stroke-width="0.4">1</text>
<text x="451.90" y="427.05" font-size="7.4" text-anchor="middle" font-weight="normal" font-style="normal" fill="#1a1a1a" stroke="#1a1a1a" stroke-width="0.4">0</text>
<text x="283.0" y="436.85" font-size="7.6" fill="#3ab54a" stroke="#3ab54a" stroke-width="0.25" textLength="29.0" lengthAdjust="spacingAndGlyphs"><tspan font-style="italic">FLT3</tspan><tspan font-weight="bold" font-style="normal">high</tspan></text>
<text x="322.30" y="436.85" font-size="7.4" text-anchor="middle" font-weight="normal" font-style="normal" fill="#1a1a1a" stroke="#1a1a1a" stroke-width="0.4">23</text>
<text x="369.20" y="436.85" font-size="7.4" text-anchor="middle" font-weight="normal" font-style="normal" fill="#1a1a1a" stroke="#1a1a1a" stroke-width="0.4">2</text>
<text x="408.80" y="436.85" font-size="7.4" text-anchor="middle" font-weight="normal" font-style="normal" fill="#1a1a1a" stroke="#1a1a1a" stroke-width="0.4">1</text>
<text x="451.90" y="436.85" font-size="7.4" text-anchor="middle" font-weight="normal" font-style="normal" fill="#1a1a1a" stroke="#1a1a1a" stroke-width="0.4">0</text>
</svg>
</body></html>
